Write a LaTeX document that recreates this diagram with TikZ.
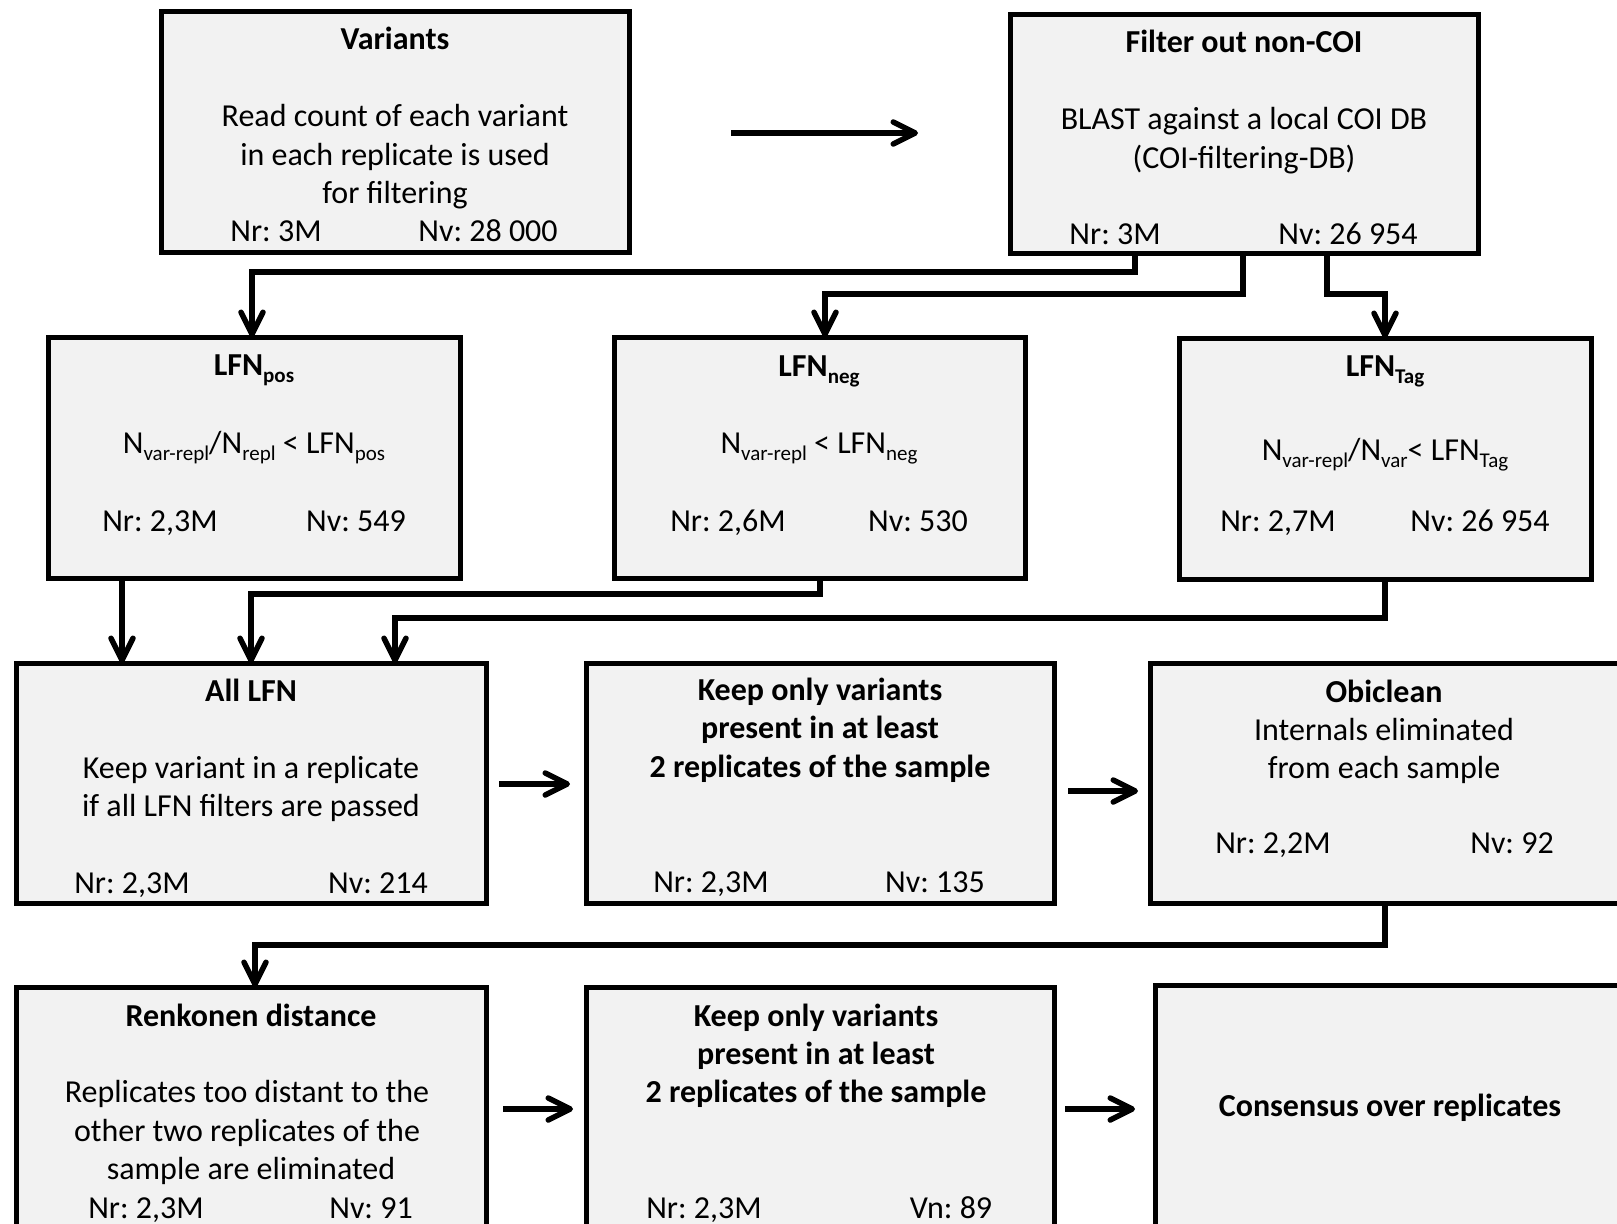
\documentclass[tikz,border=0pt]{standalone}
\usepackage{fontspec}
\setmainfont{Carlito}
\frenchspacing
\usetikzlibrary{arrows.meta}
\definecolor{boxfill}{HTML}{F2F2F2}
\newcommand\sbs[1]{\raisebox{-3.5pt}{\fontsize{10.5pt}{12pt}\selectfont #1}}
\newcommand\mkbox[5]{\node[box, minimum width={(#4-#2)*0.5pt}, minimum height={(#5-#3)*0.5pt}] (#1) at ({(#2+#4)/2},{(#3+#5)/2}) {};}
\begin{document}
\begin{tikzpicture}[x=0.5pt,y=-0.5pt,
 box/.style={draw=black, fill=boxfill, line width=2.5pt, inner sep=0pt, outer sep=0pt},
 txt/.style={font=\fontsize{16pt}{19.5pt}\selectfont, inner sep=0pt, anchor=base},
 ttl/.style={font=\fontsize{16pt}{19.5pt}\selectfont\bfseries, inner sep=0pt, anchor=base},
 arr/.style={line width=2.75pt, line join=miter, -{Straight Barb[length=11pt,width=11pt,line cap=round,line join=round]}}]
\useasboundingbox (0,0) rectangle (1617,1223);
\clip (0,0) rectangle (1617,1223);
% boxes
\mkbox{var}{161}{11}{629}{252}
\mkbox{filt}{1010}{14}{1478}{253}
\mkbox{lfnpos}{48}{337}{460}{578}
\mkbox{lfnneg}{614}{337}{1025}{578}
\mkbox{lfntag}{1179}{338}{1591}{579}
\mkbox{alllfn}{16}{663}{486}{903}
\mkbox{keepa}{586}{663}{1054}{903}
\mkbox{obic}{1150}{663}{1620}{903}
\mkbox{renk}{16}{987}{486}{1240}
\mkbox{keepb}{586}{987}{1054}{1240}
\mkbox{cons}{1155}{985}{1628}{1240}
% Variants
\node[ttl] (varT) at (395,49) {Variants};
\node[txt] (varL1) at (395,126) {Read count of each variant};
\node[txt] (varL2) at (395,165) {in each replicate is used};
\node[txt] (varL3) at (395,203) {for filtering};
\node[txt] (varNr) at (276,241) {Nr: 3M};
\node[txt] (varNv) at (488,241) {Nv: 28 000};
% Filter
\node[ttl] (filtT) at (1244,52) {Filter out non-COI};
\node[txt] (filtL1) at (1244,129) {BLAST against a local COI DB};
\node[txt] (filtL2) at (1244,168) {(COI-filtering-DB)};
\node[txt] (filtNr) at (1115,244) {Nr: 3M};
\node[txt] (filtNv) at (1348,244) {Nv: 26 954};
% LFN pos
\node[ttl] (posT) at (254,375) {LFN\sbs{pos}};
\node[txt] (posF) at (254,453) {N\sbs{var-repl}/N\sbs{repl} < LFN\sbs{pos}};
\node[txt] (posNr) at (160,531) {Nr: 2,3M};
\node[txt] (posNv) at (356,531) {Nv: 549};
% LFN neg
\node[ttl] (negT) at (819,376) {LFN\sbs{neg}};
\node[txt] (negF) at (819,453) {N\sbs{var-repl} < LFN\sbs{neg}};
\node[txt] (negNr) at (728,531) {Nr: 2,6M};
\node[txt] (negNv) at (918,531) {Nv: 530};
% LFN Tag
\node[ttl] (tagT) at (1385,376) {LFN\sbs{Tag}};
\node[txt] (tagF) at (1385,460) {N\sbs{var-repl}/N\sbs{var}< LFN\sbs{Tag}};
\node[txt] (tagNr) at (1278,531) {Nr: 2,7M};
\node[txt] (tagNv) at (1480,531) {Nv: 26 954};
% All LFN
\node[ttl] (allT) at (251,701) {All LFN};
\node[txt] (allL1) at (251,778) {Keep variant in a replicate};
\node[txt] (allL2) at (251,816) {if all LFN filters are passed};
\node[txt] (allNr) at (132,893) {Nr: 2,3M};
\node[txt] (allNv) at (378,893) {Nv: 214};
% Keep only (1)
\node[ttl] (kaL1) at (820,700) {Keep only variants};
\node[ttl] (kaL2) at (820,738) {present in at least};
\node[ttl] (kaL3) at (820,777) {2 replicates of the sample};
\node[txt] (kaNr) at (711,892) {Nr: 2,3M};
\node[txt] (kaNv) at (935,892) {Nv: 135};
% Obiclean
\node[ttl] (obT) at (1384,702) {Obiclean};
\node[txt] (obL1) at (1384,740) {Internals eliminated};
\node[txt] (obL2) at (1384,778) {from each sample};
\node[txt] (obNr) at (1273,853) {Nr: 2,2M};
\node[txt] (obNv) at (1512,853) {Nv: 92};
% Renkonen
\node[ttl] (rkT) at (251,1026) {Renkonen distance};
\node[txt] (rkL1) at (247,1102) {Replicates too distant to the};
\node[txt] (rkL2) at (247,1141) {other two replicates of the};
\node[txt] (rkL3) at (251,1179) {sample are eliminated};
\node[txt] (rkNr) at (146,1218) {Nr: 2,3M};
\node[txt] (rkNv) at (371,1218) {Nv: 91};
% Keep only (2)
\node[ttl] (kbL1) at (816,1026) {Keep only variants};
\node[ttl] (kbL2) at (816,1064) {present in at least};
\node[ttl] (kbL3) at (816,1102) {2 replicates of the sample};
\node[txt] (kbNr) at (704,1218) {Nr: 2,3M};
\node[txt] (kbNv) at (951,1218) {Vn: 89};
% Consensus
\node[ttl] (csT) at (1390,1116) {Consensus over replicates};
% connector coordinates
\coordinate (h1s) at (731,133);
\coordinate (h1e) at (918,133);
\coordinate (f1) at (1135,272);
\coordinate (f2) at (1243,294);
\coordinate (f3) at (1327,294);
\coordinate (a1) at (122,620);
\coordinate (a2) at (820,594);
\coordinate (a3) at (395,618);
\coordinate (r1) at (255,945);
\coordinate (h2s) at (499,784);
\coordinate (h2e) at (570,784);
\coordinate (h3s) at (1068,791);
\coordinate (h3e) at (1138,791);
\coordinate (h4s) at (503,1109);
\coordinate (h4e) at (573,1109);
\coordinate (h5s) at (1065,1109);
\coordinate (h5e) at (1135,1109);
% connectors
\draw[arr] (h1s) -- (h1e);
\draw[arr] (filt.south -| f1) -- (f1) -| ([xshift=-1pt]lfnpos.north);
\draw[arr] (filt.south -| f2) -- (f2) -| ([xshift=2.75pt]lfnneg.north);
\draw[arr] (filt.south -| f3) -- (f3) -| (lfntag.north);
\draw[arr] (lfnpos.south -| a1) -- (alllfn.north -| a1);
\draw[arr] (lfnneg.south -| a2) -- (a2) -| (alllfn.north);
\draw[arr] (lfntag.south) |- (a3) -- (alllfn.north -| a3);
\draw[arr] (obic.south -| 1385,0) |- (r1) -- (renk.north -| r1);
\draw[arr] (h2s) -- (h2e);
\draw[arr] (h3s) -- (h3e);
\draw[arr] (h4s) -- (h4e);
\draw[arr] (h5s) -- (h5e);
\end{tikzpicture}
\end{document}
